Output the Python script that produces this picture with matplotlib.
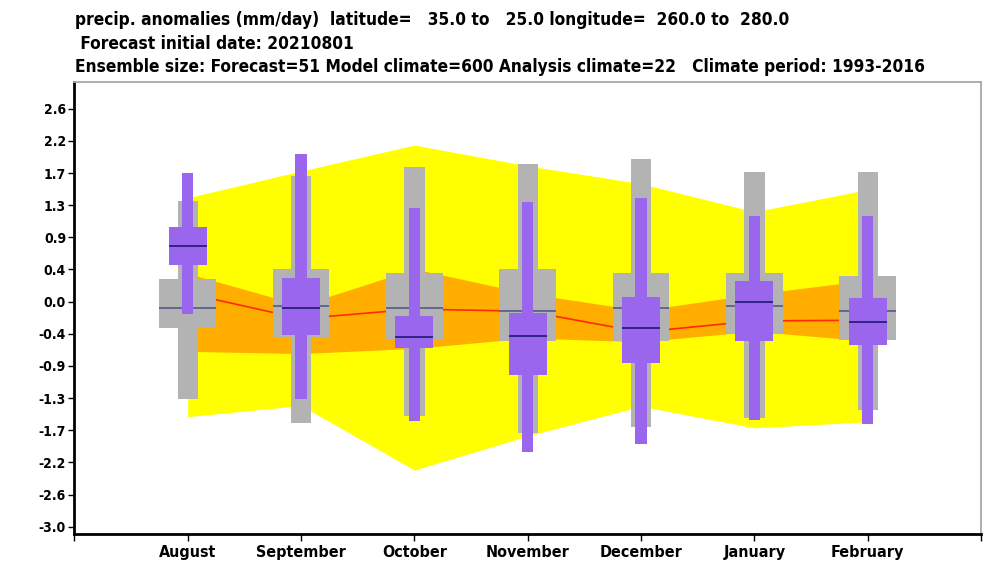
import numpy as np
import matplotlib.pyplot as plt
from matplotlib.patches import Rectangle

months = ['August', 'September', 'October', 'November', 'December', 'January', 'February']

# analysis climate: outer band (yellow), inner band (orange), median (red)
band_outer_hi = [1.40, 1.76, 2.11, 1.83, 1.59, 1.21, 1.51]
band_outer_lo = [-1.55, -1.40, -2.27, -1.81, -1.41, -1.70, -1.62]
band_inner_hi = [0.38, -0.05, 0.44, 0.11, -0.12, 0.10, 0.29]
band_inner_lo = [-0.67, -0.70, -0.63, -0.49, -0.54, -0.40, -0.53]
band_median = [0.11, -0.23, -0.10, -0.13, -0.41, -0.26, -0.25]

# model climate (grey boxes)
clim_whisk_lo = [-1.31, -1.63, -1.54, -1.77, -1.69, -1.57, -1.46]
clim_whisk_hi = [1.36, 1.69, 1.82, 1.86, 1.92, 1.75, 1.75]
clim_box_lo = [-0.35, -0.49, -0.51, -0.53, -0.53, -0.44, -0.52]
clim_box_hi = [0.30, 0.44, 0.39, 0.44, 0.39, 0.38, 0.35]
clim_med = [-0.08, -0.06, -0.08, -0.12, -0.09, -0.06, -0.13]

# forecast (purple boxes)
fc_whisk_lo = [-0.17, -1.31, -1.61, -2.02, -1.92, -1.60, -1.65]
fc_whisk_hi = [1.73, 1.99, 1.26, 1.34, 1.40, 1.16, 1.15]
fc_box_lo = [0.50, -0.45, -0.63, -0.99, -0.83, -0.53, -0.59]
fc_box_hi = [1.01, 0.32, -0.20, -0.15, 0.06, 0.28, 0.05]
fc_med = [0.75, -0.09, -0.48, -0.46, -0.36, -0.01, -0.27]

ytick_vals = [k * 13 / 30 for k in range(-7, 7)]

GREY = '#b3b3b3'
PURPLE = '#9b66ee'
FONT = dict(family='DejaVu Sans', fontstretch='condensed', fontweight='bold')


def draw_box(ax, x, wlo, whi, blo, bhi, med, wide, narrow, color, medcolor, z):
    ax.add_patch(Rectangle((x - narrow / 2, wlo), narrow, whi - wlo,
                           facecolor=color, edgecolor='none', zorder=z))
    ax.add_patch(Rectangle((x - wide / 2, blo), wide, bhi - blo,
                           facecolor=color, edgecolor='none', zorder=z + 0.1))
    ax.plot([x - wide / 2, x + wide / 2], [med, med], color=medcolor,
            lw=1.2, zorder=z + 0.2, solid_capstyle='butt')


fig = plt.figure(figsize=(9.96, 5.75), dpi=100)
ax = fig.add_axes([0.0747, 0.0707, 0.9103, 0.7867])

xs = np.arange(1, len(months) + 1)
ax.fill_between(xs, band_outer_lo, band_outer_hi, color='#ffff00', lw=0, zorder=1)
ax.fill_between(xs, band_inner_lo, band_inner_hi, color='#ffae00', lw=0, zorder=2)
ax.plot(xs, band_median, color='#ff2a00', lw=1.2, zorder=3)

for i, x in enumerate(xs):
    draw_box(ax, x, clim_whisk_lo[i], clim_whisk_hi[i], clim_box_lo[i], clim_box_hi[i],
             clim_med[i], 0.50, 0.18, GREY, '#55588a', 4)
    draw_box(ax, x, fc_whisk_lo[i], fc_whisk_hi[i], fc_box_lo[i], fc_box_hi[i],
             fc_med[i], 0.335, 0.10, PURPLE, '#1c1a70', 5)

ax.set_xlim(0, 8)
ax.set_ylim(-3.136, 2.96)
ax.set_xticks(range(0, 9))
ax.set_xticklabels([''] + months + [''])
ax.set_yticks(ytick_vals)
ax.set_yticklabels([f'{v:.1f}' for v in ytick_vals])
for lab in ax.get_yticklabels():
    lab.set_fontfamily('DejaVu Sans')
    lab.set_fontstretch('condensed')
    lab.set_fontweight('bold')
    lab.set_fontsize(10)
for lab in ax.get_xticklabels():
    lab.set_fontfamily('DejaVu Sans')
    lab.set_fontstretch('condensed')
    lab.set_fontweight('bold')
    lab.set_fontsize(11.5)
ax.tick_params(axis='y', length=4, width=1, pad=2)
ax.tick_params(axis='x', length=5, width=1, pad=3)

ax.spines['left'].set_linewidth(2)
ax.spines['bottom'].set_linewidth(2)
for s in ('top', 'right'):
    ax.spines[s].set_color('#a8a8a8')
    ax.spines[s].set_linewidth(1.3)

fig.text(0.0753, 0.966, 'precip. anomalies (mm/day)  latitude=   35.0 to   25.0 longitude=  260.0 to  280.0',
         fontsize=12.4, ha='left', va='center', **FONT)
fig.text(0.0753, 0.923, ' Forecast initial date: 20210801',
         fontsize=12.4, ha='left', va='center', **FONT)
fig.text(0.0753, 0.883, 'Ensemble size: Forecast=51 Model climate=600 Analysis climate=22   Climate period: 1993-2016',
         fontsize=12.4, ha='left', va='center', **FONT)

fig.savefig('out.png', dpi=100)
